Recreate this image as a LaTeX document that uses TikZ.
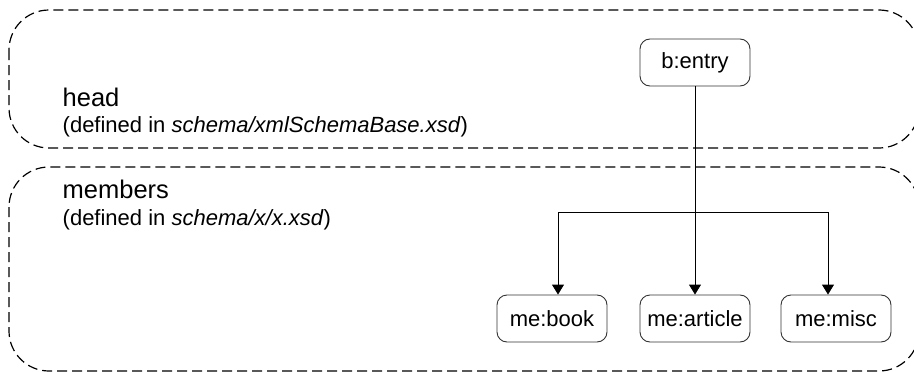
\documentclass[tikz,border=0pt]{standalone}
\usepackage{fontspec}
\setmainfont{Liberation Sans}
\usetikzlibrary{arrows.meta}
\tikzset{
  region/.style={draw=black, line width=1.2pt, dash pattern=on 10pt off 5pt, rounded corners=40pt},
  elem/.style={draw=black!80, line width=0.9pt, rounded corners=10pt, minimum width=110pt, minimum height=47pt, inner sep=0pt, font=\fontsize{22}{26}\selectfont},
  title/.style={anchor=base west, inner sep=0pt, font=\fontsize{25.5}{30}\selectfont},
  subtitle/.style={anchor=base west, inner sep=0pt, font=\fontsize{22}{26}\selectfont},
  link/.style={draw=black, line width=0.9pt, -{Triangle[width=12pt,length=10pt]}},
}
\begin{document}
\begin{tikzpicture}[x=1pt,y=-1pt]
\useasboundingbox (0,0) rectangle (914,372);
\draw[region] (9,10) rectangle (919,148);
\draw[region] (9,167) rectangle (919,371);
\node[title] (headt) at (62.5,106.5) {head};
\node[subtitle] (heads) at (62.5,132) {(defined in \textit{schema/xmlSchemaBase.xsd})};
\node[title] (memt) at (62.5,198) {members};
\node[subtitle] (mems) at (62.5,225) {(defined in \textit{schema/x/x.xsd})};
\node[elem] (entry) at (695,62.5) {b:entry};
\node[elem] (book) at (552,318.5) {me:book};
\node[elem] (article) at (695,318.5) {me:article};
\node[elem] (misc) at (836,318.5) {me:misc};
\coordinate (j) at (695,212);
\draw[link] (entry.south) -- (article.north);
\draw[link] (j) -| ([xshift=6pt]book.north);
\draw[link] (j) -| ([xshift=-8pt]misc.north);
\end{tikzpicture}
\end{document}
